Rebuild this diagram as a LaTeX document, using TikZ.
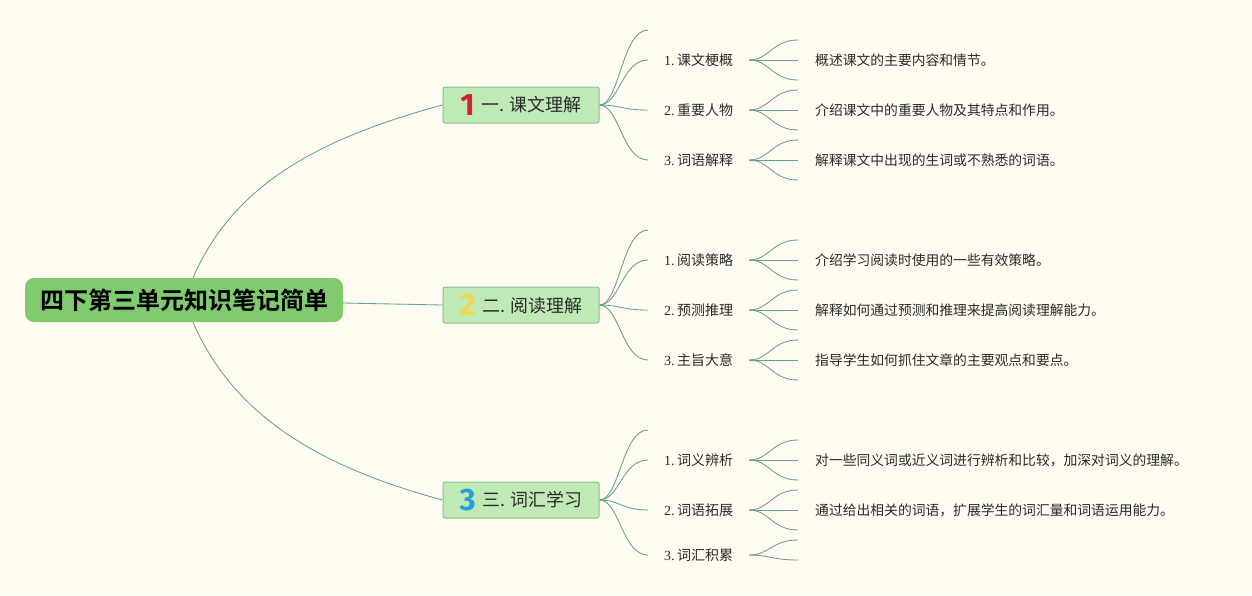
\documentclass[tikz,border=0pt]{standalone}
\usepackage{fontspec}
\setmainfont{Liberation Serif}
\newfontfamily\cjk{Noto Sans CJK SC}[BoldFont={Noto Sans CJK SC Bold}]
\newfontfamily\numf{Fira Sans}[BoldFont={Fira Sans Bold}]
\usetikzlibrary{backgrounds}
\definecolor{bgc}{HTML}{FEFCF1}
\definecolor{lc}{HTML}{6A9F8A}
\definecolor{rootc}{HTML}{80CB6F}
\definecolor{grpc}{HTML}{BFEAB5}
\definecolor{grpd}{HTML}{8BBF8D}
\definecolor{txt}{HTML}{2A2A2A}
\definecolor{nred}{HTML}{D8232F}
\definecolor{nyel}{HTML}{F6D548}
\definecolor{nblu}{HTML}{2A9ED8}
\newcommand\grpnum[2]{\raisebox{-3.5pt}{\numf\bfseries\color{#1}\fontsize{31}{31}\selectfont #2}\hspace{7pt}}
\newcommand\subl[2]{{\rmfamily #1}\,{\cjk #2}}
\newcommand\twig[2]{\draw[conn] (#1) .. controls +(20,0) and +(-26,0) .. (#2);}
\begin{document}
\begin{tikzpicture}[x=1pt,y=-1pt,
  conn/.style={draw=lc, line width=0.85pt},
  rootbox/.style={fill=rootc, rounded corners=9pt, minimum width=318pt, minimum height=44pt, inner sep=0pt, text=black, font=\cjk\bfseries\fontsize{24}{26}\selectfont},
  grpbox/.style={fill=grpc, draw=grpd, line width=1pt, rounded corners=2pt, minimum width=156pt, minimum height=36pt, inner sep=0pt, text=txt, font=\cjk\fontsize{17.9}{20}\selectfont},
  subtxt/.style={inner xsep=16pt, inner ysep=2pt, text=txt, font=\fontsize{14}{16}\selectfont},
  desc/.style={anchor=west, inner xsep=17pt, inner ysep=2pt, text=txt, font=\cjk\fontsize{13.8}{16}\selectfont}]
\useasboundingbox (0,0) rectangle (1252,595);

\node[rootbox] (r) at (184,300) {四下第三单元知识笔记简单};

\node[grpbox] (g1) at (521,105) {\grpnum{nred}{1}一. 课文理解};
\node[grpbox] (g2) at (521,305) {\grpnum{nyel}{2}二. 阅读理解};
\node[grpbox] (g3) at (521,500) {\grpnum{nblu}{3}三. 词汇学习};

% subtopics
\node[subtxt,anchor=west] (s11) at (648,60)  {\subl{1.}{课文梗概}};
\node[subtxt,anchor=west] (s12) at (648,110) {\subl{2.}{重要人物}};
\node[subtxt,anchor=west] (s13) at (648,160) {\subl{3.}{词语解释}};
\node[subtxt,anchor=west] (s21) at (648,260) {\subl{1.}{阅读策略}};
\node[subtxt,anchor=west] (s22) at (648,310) {\subl{2.}{预测推理}};
\node[subtxt,anchor=west] (s23) at (648,360) {\subl{3.}{主旨大意}};
\node[subtxt,anchor=west] (s31) at (648,460) {\subl{1.}{词义辨析}};
\node[subtxt,anchor=west] (s32) at (648,510) {\subl{2.}{词语拓展}};
\node[subtxt,anchor=west] (s33) at (648,555) {\subl{3.}{词汇积累}};

% descriptions
\node[desc] (d11) at (798,60)  {概述课文的主要内容和情节。};
\node[desc] (d12) at (798,110) {介绍课文中的重要人物及其特点和作用。};
\node[desc] (d13) at (798,160) {解释课文中出现的生词或不熟悉的词语。};
\node[desc] (d21) at (798,260) {介绍学习阅读时使用的一些有效策略。};
\node[desc] (d22) at (798,310) {解释如何通过预测和推理来提高阅读理解能力。};
\node[desc] (d23) at (798,360) {指导学生如何抓住文章的主要观点和要点。};
\node[desc] (d31) at (798,460) {对一些同义词或近义词进行辨析和比较，加深对词义的理解。};
\node[desc] (d32) at (798,510) {通过给出相关的词语，扩展学生的词汇量和词语运用能力。};

% free ends
\coordinate (x1) at (648,30);
\coordinate (x2) at (648,230);
\coordinate (x3) at (648,430);

\begin{scope}[on background layer]
\fill[bgc] (0,0) rectangle (1252,595);
% root connectors
\draw[conn] ([xshift=9pt]r.north) .. controls +(40,-92) and +(-126,34) .. (g1.west);
\draw[conn] ([yshift=-3pt]r.east) -- (g2.west);
\draw[conn] ([xshift=9pt]r.south) .. controls +(40,92) and +(-126,-34) .. (g3.west);
% group to subtopic
\foreach \g/\a/\b/\c/\d in {g1/x1/s11/s12/s13, g2/x2/s21/s22/s23, g3/x3/s31/s32/s33}{
  \twig{\g.east}{\a}
  \twig{\g.east}{\b.west}
  \twig{\g.east}{\c.west}
  \twig{\g.east}{\d.west}
}
% subtopic to description
\foreach \s in {s11,s12,s13,s21,s22,s23,s31,s32}{
  \draw[conn] (\s.east) .. controls +(20,0) and +(-26,0) .. ([yshift=20pt]\s.east -| d11.west);
  \draw[conn] (\s.east) -- (\s.east -| d11.west);
  \draw[conn] (\s.east) .. controls +(20,0) and +(-26,0) .. ([yshift=-20pt]\s.east -| d11.west);
}
\draw[conn] (s33.east) .. controls +(20,0) and +(-26,0) .. ([yshift=15pt]s33.east -| d11.west);
\draw[conn] (s33.east) .. controls +(20,0) and +(-26,0) .. ([yshift=-5pt]s33.east -| d11.west);
\end{scope}
\end{tikzpicture}
\end{document}
